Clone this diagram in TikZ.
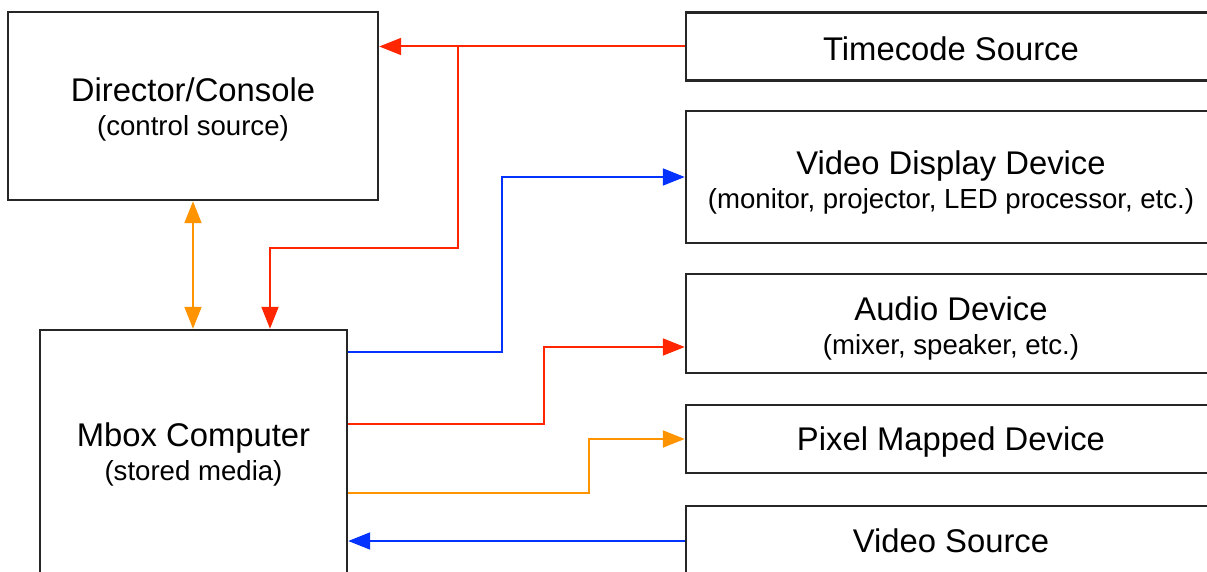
\documentclass[tikz,border=0pt]{standalone}
\usepackage{fontspec}
\setmainfont{Liberation Sans}
\usetikzlibrary{arrows.meta}
\definecolor{cred}{HTML}{FF2600}
\definecolor{cblue}{HTML}{0433FF}
\definecolor{corange}{HTML}{FF9300}
\newcommand\subline[1]{{\fontsize{27.6}{34}\selectfont #1}}
\begin{document}
\begin{tikzpicture}[x=1pt,y=-1pt,
  box/.style={draw=black!85, line width=2.4pt, rectangle, inner sep=0pt},
  rbox/.style={box, minimum width=530pt},
  txt/.style={inner sep=0pt, align=center, anchor=base, font=\fontsize{32.8}{34}\selectfont},
  conn/.style={line width=2pt, -{Triangle[length=22pt,width=17pt]}},
  both/.style={line width=2pt, {Triangle[length=22pt,width=17pt]}-{Triangle[length=22pt,width=17pt]}},
]
\useasboundingbox (0,0) rectangle (1207,572);
\clip (0,0) rectangle (1207,572);

\node[box, minimum width=370pt, minimum height=188pt] (dir) at (193,106) {};
\node[txt] (dirt) at (193,136) {Director/Console\\\subline{(control source)}};
\node[box, minimum width=307pt, minimum height=246pt] (mbox) at (193.5,453) {};
\node[txt] (mboxt) at (193.5,480) {Mbox Computer\\\subline{(stored media)}};

\node[rbox, minimum height=68pt] (tc) at (951,46.5) {};
\node[txt] (tct) at (951,61) {Timecode Source};
\node[rbox, minimum height=132pt] (vd) at (951,177) {};
\node[txt] (vdt) at (951,208.5) {Video Display Device\\\subline{(monitor, projector, LED processor, etc.)}};
\node[rbox, minimum height=99pt] (ad) at (951,323.5) {};
\node[txt] (adt) at (951,354.5) {Audio Device\\\subline{(mixer, speaker, etc.)}};
\node[rbox, minimum height=68pt] (px) at (951,439) {};
\node[txt] (pxt) at (951,450.5) {Pixel Mapped Device};
\node[rbox, minimum height=70pt] (vs) at (951,541) {};
\node[txt] (vst) at (951,552) {Video Source};

% timecode
\draw[conn, cred] (tc.west) -- (tc.west -| dir.east);
\coordinate (j1) at (458,46.5);
\coordinate (k1) at (270,248);
\draw[conn, cred] (j1) |- (k1) -- (k1 |- mbox.north);

% control
\draw[both, corange] (dir.south) -- (dir.south |- mbox.north);

% video out
\coordinate (b1) at (502,352);
\draw[conn, cblue] (b1 -| mbox.east) -- (b1) |- (vd.west);

% audio
\coordinate (r2a) at (544,424);
\coordinate (r2b) at (544,347);
\draw[conn, cred] (r2a -| mbox.east) -- (r2a) -- (r2b) -- (r2b -| ad.west);

% pixel mapped
\coordinate (o2) at (589,493);
\draw[conn, corange] (o2 -| mbox.east) -- (o2) |- (px.west);

% video source
\draw[conn, cblue] (vs.west) -- (vs.west -| mbox.east);
\end{tikzpicture}
\end{document}
